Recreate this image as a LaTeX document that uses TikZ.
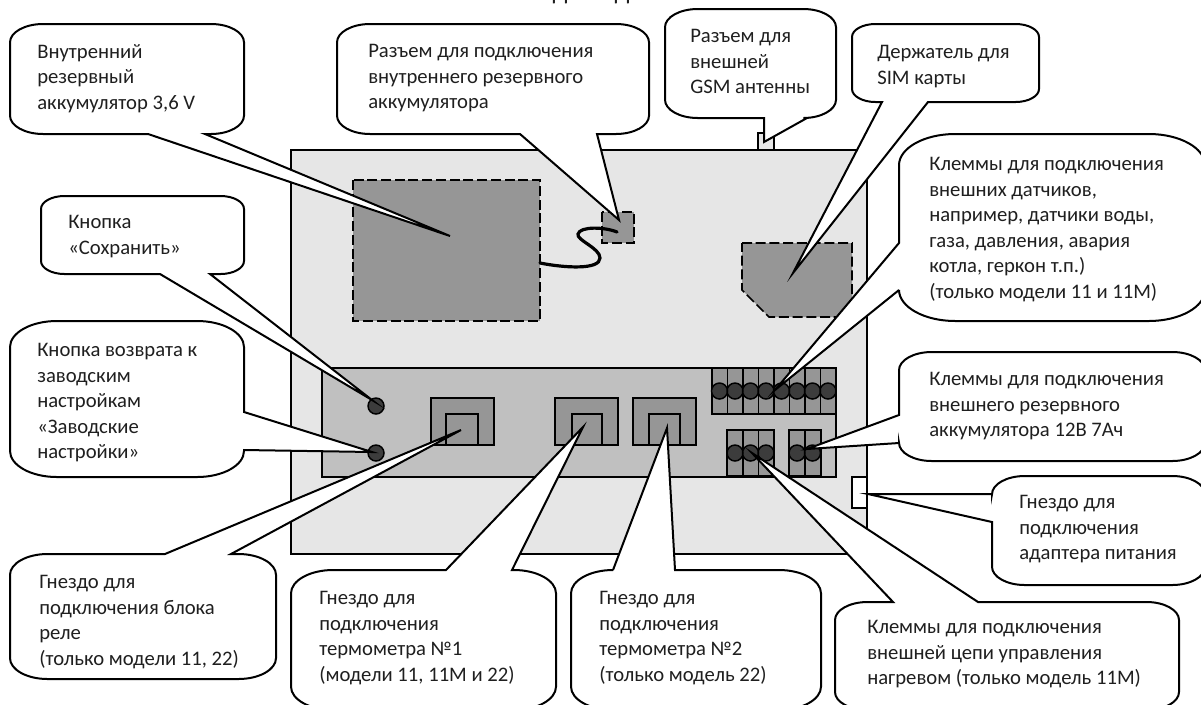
\documentclass[tikz,border=0pt]{standalone}
\usepackage{fontspec}
\setmainfont{Carlito}
\usetikzlibrary{positioning}

\definecolor{casegray}{HTML}{E6E6E6}
\definecolor{boardgray}{HTML}{C0C0C0}
\definecolor{partgray}{HTML}{969696}
\definecolor{screwgray}{HTML}{3C3C3C}

\tikzset{
	bubble/.style={draw=black, fill=white, line width=1.5pt, line join=miter, miter limit=20},
	label/.style={anchor=north west, inner sep=0pt, yshift=-3.75pt, align=left, text=black!88, font=\fontsize{15.5}{19.2}\selectfont},
	casebox/.style={draw=black, fill=casegray, line width=2.1pt},
	part/.style={draw=black, fill=partgray, line width=1.1pt},
	dashpart/.style={draw=black, fill=partgray, line width=1.3pt, dash pattern=on 7.5pt off 2.8pt},
	screw/.style={draw=black, fill=screwgray, line width=1.1pt}
}

% x0 y0 x1 y1, then the pointer on the top, right, bottom and left side
\newcommand{\bubblebox}[8]{
	\pgfmathsetmacro{\bry}{(#4-#2)/6}
	\pgfmathsetmacro{\brx}{1.8*\bry}
	\draw[bubble] (#1+\brx,#2) #5 -- (#3-\brx,#2)
		.. controls (#3-0.45*\brx,#2) and (#3,#2+0.45*\bry) .. (#3,#2+\bry) #6 -- (#3,#4-\bry)
		.. controls (#3,#4-0.45*\bry) and (#3-0.45*\brx,#4) .. (#3-\brx,#4) #7 -- (#1+\brx,#4)
		.. controls (#1+0.45*\brx,#4) and (#1,#4-0.45*\bry) .. (#1,#4-\bry) #8 -- (#1,#2+\bry)
		.. controls (#1,#2+0.45*\bry) and (#1+0.45*\brx,#2) .. (#1+\brx,#2) -- cycle;
}

\begin{document}
\begin{tikzpicture}[x=0.75pt,y=-0.75pt]
\clip (0,0) rectangle (1201,704);

% case and board
\draw[casebox] (758,133) rectangle (774,150);
\draw[casebox] (291,150) rectangle (867,554);
\draw[draw=black, fill=white, line width=1.5pt] (852,477) rectangle (867,508);
\draw[draw=black, fill=boardgray, line width=1.1pt] (322,368) rectangle (836,477);

\draw[dashpart] (353,180) rectangle (540,321);
\draw[dashpart] (602,212) rectangle (634,243);
\draw[dashpart] (742,243) -- (852,243) -- (852,317) -- (769,317) -- (742,290) -- cycle;
\draw[line width=2.4pt, line cap=round] (540,263) .. controls (565,268) and (600,270) .. (600,258) .. controls (600,248) and (576,240) .. (578,234) .. controls (580,226) and (605,227) .. (617,232);

\draw[part] (431,398) rectangle (494,445);
\draw[part] (446,414) rectangle (478,445);
\draw[part] (555,398) rectangle (618,445);
\draw[part] (572,414) rectangle (602,445);
\draw[part] (633,398) rectangle (696,445);
\draw[part] (649,414) rectangle (680,445);

\draw[screw] (376,406) circle (8);
\draw[screw] (376,453) circle (8);

\draw[part] (712,368) rectangle (727.5,414) (727.5,368) rectangle (743,414) (743,368) rectangle (758.5,414) (758.5,368) rectangle (774,414) (774,368) rectangle (789.5,414) (789.5,368) rectangle (805,414) (805,368) rectangle (820.5,414) (820.5,368) rectangle (836,414);
\draw[screw] (719.5,391) circle (8) (735,391) circle (8) (750.5,391) circle (8) (766,391) circle (8) (781.5,391) circle (8) (797,391) circle (8) (812.5,391) circle (8) (828,391) circle (8);

\draw[part] (727,430) rectangle (743,476) (743,430) rectangle (758.5,476) (758.5,430) rectangle (774,476);
\draw[screw] (735,453) circle (8) (750.5,453) circle (8) (766,453) circle (8);

\draw[part] (789,430) rectangle (805,476) (805,430) rectangle (821,476);
\draw[screw] (797,453) circle (8) (812.5,453) circle (8);

% callouts
\bubblebox{10}{24}{244}{134}{}{}{-- (205,134) -- (450,236) -- (148,134)}{}
\bubblebox{41}{196}{244}{274}{}{}{-- (210,274) -- (372,400) -- (160,274)}{}
\bubblebox{10}{321}{244}{477}{}{-- (244,412) -- (372,452) -- (244,450)}{}{}
\bubblebox{10}{554}{276}{679}{-- (165,554) -- (461,430) -- (231,554)}{}{}{}
\bubblebox{291}{570}{556}{710}{-- (446,570) -- (583,427) -- (512,570)}{}{}{}
\bubblebox{571}{570}{821}{710}{-- (613,570) -- (667,428) -- (675,570)}{}{}{}
\bubblebox{835}{602}{1179}{710}{-- (893,602) -- (752,453) -- (978,602)}{}{}{}
\bubblebox{992}{476}{1205}{585}{}{}{}{-- (992,522) -- (868,494) -- (992,494)}
\bubblebox{899}{352}{1205}{461}{}{}{}{-- (899,443) -- (807,449) -- (899,415)}
\bubblebox{899}{134}{1205}{321}{}{}{}{-- (899,290) -- (775,390) -- (899,243)}
\bubblebox{852}{24}{1039}{102}{}{}{-- (928,102) -- (793,273) -- (882,102)}{}
\bubblebox{665}{9}{836}{118}{}{}{-- (807,118) -- (764,142) -- (764,118)}{}
\bubblebox{337}{24}{649}{134}{}{}{-- (597,134) -- (619,220) -- (520,134)}{}

		\node[label] (battext) at (37,39){Внутренний\\резервный\\аккумулятор 3,6 V};
		\node[label] (savetext) at (68,210){Кнопка\\«Сохранить»};
		\node[label] (resettext) at (37,338){Кнопка возврата к\\заводским\\настройкам\\«Заводские\\настройки»};
		\node[label] (relaytext) at (39,570){Гнездо для\\подключения блока\\реле\\(только модели 11, 22)};
		\node[label] (thermotexta) at (319,586){Гнездо для\\подключения\\термометра №1\\(модели 11, 11М и 22)};
		\node[label] (thermotextb) at (599,586){Гнездо для\\подключения\\термометра №2\\(только модель 22)};
		\node[label] (heattext) at (867,615){Клеммы для подключения\\внешней цепи управления\\нагревом (только модель 11М)};
		\node[label] (powertext) at (1019,490){Гнездо для\\подключения\\адаптера питания};
		\node[label] (reservetext) at (929,367){Клеммы для подключения\\внешнего резервного\\аккумулятора 12В 7Ач};
		\node[label] (sensortext) at (929,152){Клеммы для подключения\\внешних датчиков,\\например, датчики воды,\\газа, давления, авария\\котла, геркон т.п.)\\(только модели 11 и 11М)};
		\node[label] (simtext) at (877,40){Держатель для\\SIM карты};
		\node[label] (gsmtext) at (690,24){Разъем для\\внешней\\GSM антенны};
		\node[label] (plugtext) at (368,39){Разъем для подключения\\внутреннего резервного\\аккумулятора};

		\node[anchor=base, inner sep=0pt, font=\fontsize{20}{24}\selectfont, text=black!88] (titlea) at (560,-1){д};
		\node[anchor=base, inner sep=0pt, font=\fontsize{20}{24}\selectfont, text=black!88] (titleb) at (622,-1){д};
\end{tikzpicture}
\end{document}
